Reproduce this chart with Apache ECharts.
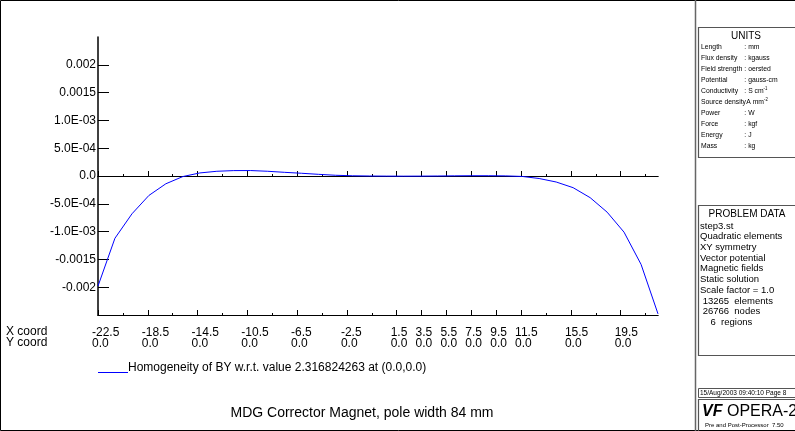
<!DOCTYPE html>
<html>
<head>
<meta charset="utf-8">
<title>MDG Corrector Magnet</title>
<script src="https://cdn.jsdelivr.net/npm/echarts@6/dist/echarts.min.js"></script>
<style>
  html, body { margin: 0; padding: 0; background: #fff; }
  #myChart { width: 795px; height: 431px; }
</style>
</head>
<body>
<div id="myChart"></div>
<script>
  // x coord of each sample (Y coord is 0.0 everywhere)
  var xCoord = [-22.5, -21.14, -19.77, -18.41, -17.05, -15.68, -14.32, -12.95, -11.59, -10.23,
    -8.86, -7.5, -6.14, -4.77, -3.41, -2.05, -0.68, 0.68, 2.05, 3.41,
    4.77, 6.14, 7.5, 8.86, 10.23, 11.59, 12.95, 14.32, 15.68, 17.05,
    18.41, 19.77, 21.14, 22.5]
  // homogeneity of BY
  var homogeneity = [-0.00198, -0.00112, -0.00068, -0.00035, -0.00014, -0.00001, 0.000055, 0.000085, 0.000097, 0.000098,
    0.000085, 0.000066, 0.000049, 0.00003, 0.000013, 0.000004, 0.0, -0.000002, -0.000003, -0.000002,
    0.0, 0.000003, 0.000005, 0.000005, 0.000002, -0.000008, -0.000045, -0.000108, -0.00021, -0.00039,
    -0.00065, -0.00101, -0.00159, -0.00248]

  var xLabelTicks = [-22.5, -18.5, -14.5, -10.5, -6.5, -2.5, 1.5, 3.5, 5.5, 7.5, 9.5, 11.5, 15.5, 19.5]
  var xSmallTicks = [-20.5, -16.5, -12.5, -8.5, -4.5, -0.5, 13.5, 17.5, 21.5]
  var yCoordLabel = '0.0'
  var yTicks = [0.002, 0.0015, 0.001, 0.0005, 0, -0.0005, -0.001, -0.0015, -0.002]
  var yTickLabels = ['0.002', '0.0015', '1.0E-03', '5.0E-04', '0.0', '-5.0E-04', '-1.0E-03', '-0.0015', '-0.002']

  var seriesName = 'Homogeneity of BY w.r.t. value 2.316824263 at (0.0,0.0)'
  var unitRows = [
    ['Length', ': mm'],
    ['Flux density', ': kgauss'],
    ['Field strength', ': oersted'],
    ['Potential', ': gauss-cm'],
    ['Conductivity', '{a|: S cm}{s|-1}'],
    ['Source density', '{a| A mm}{s|-2}'],
    ['Power', ': W'],
    ['Force', ': kgf'],
    ['Energy', ': J'],
    ['Mass', ': kg']
  ]
  var problemRows = ['step3.st', 'Quadratic elements', 'XY symmetry', 'Vector potential', 'Magnetic fields',
    'Static solution', 'Scale factor = 1.0', ' 13265  elements', ' 26766  nodes', '    6  regions']

  var font = '"Liberation Sans", Arial, sans-serif'
  var points = xCoord.map(function (x, i) { return [x, homogeneity[i]] })

  function xAxisBase(extra) {
    var a = {
      type: 'value',
      min: -22.5,
      max: 22.5,
      position: 'bottom',
      splitLine: {show: false},
      axisLine: {onZero: false, lineStyle: {color: '#000', width: 1}},
      axisLabel: {show: false}
    }
    return Object.assign(a, extra)
  }

  var graphics = []
  // frame and right-hand panel
  graphics.push({type: 'rect', shape: {x: 0.5, y: 0.5, width: 800, height: 430}, style: {fill: 'none', stroke: '#000', lineWidth: 1}})
  graphics.push({type: 'line', shape: {x1: 695.5, y1: 0, x2: 695.5, y2: 431}, style: {stroke: '#666', lineWidth: 1.5}})
  graphics.push({type: 'rect', shape: {x: 698.5, y: 27.5, width: 110, height: 130}, style: {fill: 'none', stroke: '#555', lineWidth: 1.2}})
  graphics.push({type: 'rect', shape: {x: 698.5, y: 205.5, width: 110, height: 150}, style: {fill: 'none', stroke: '#555', lineWidth: 1.2}})
  graphics.push({type: 'rect', shape: {x: 698.5, y: 388.5, width: 110, height: 9}, style: {fill: 'none', stroke: '#555', lineWidth: 1}})
  graphics.push({type: 'rect', shape: {x: 698.5, y: 399.5, width: 110, height: 40}, style: {fill: 'none', stroke: '#555', lineWidth: 1.2}})

  graphics.push({type: 'text', style: {text: 'UNITS', x: 746, y: 36, font: '10px ' + font, fill: '#000', align: 'center', verticalAlign: 'middle'}})
  var unitTexts = []
  unitRows.forEach(function (r, i) {
    var y = 47 + i * 11
    unitTexts.push({type: 'text', style: {text: r[0], x: 0, y: y, font: '8px ' + font, fill: '#000', verticalAlign: 'middle'}})
    unitTexts.push({type: 'text', style: {
      text: r[1], x: 51, y: y, font: '8px ' + font, fill: '#000', verticalAlign: 'middle',
      rich: {a: {fontSize: 8, fontFamily: font}, s: {fontSize: 5, fontFamily: font, verticalAlign: 'top', padding: [0, 0, 4, 0]}}
    }})
  })
  graphics.push({type: 'group', x: 701, y: 0, scaleX: 0.85, children: unitTexts})

  graphics.push({type: 'text', style: {text: 'PROBLEM DATA', x: 747, y: 214, font: '10px ' + font, fill: '#000', align: 'center', verticalAlign: 'middle'}})
  problemRows.forEach(function (r, i) {
    graphics.push({type: 'text', style: {text: r, x: 700, y: 226 + i * 10.7, font: '9.5px ' + font, fill: '#000', verticalAlign: 'middle'}})
  })

  graphics.push({type: 'text', style: {text: '15/Aug/2003 09:40:10 Page 8', x: 700, y: 393.5, font: '6.5px ' + font, fill: '#000', verticalAlign: 'middle'}})
  graphics.push({type: 'text', style: {text: 'VF', x: 702, y: 412, font: 'italic bold 16px ' + font, fill: '#000', verticalAlign: 'middle'}})
  graphics.push({type: 'text', style: {text: 'OPERA-2', x: 727, y: 412, font: '16px ' + font, fill: '#000', verticalAlign: 'middle'}})
  graphics.push({type: 'text', style: {text: 'Pre and Post-Processor  7.50', x: 705, y: 425.5, font: '6px ' + font, fill: '#000', verticalAlign: 'middle'}})

  // row headings under the x axis
  graphics.push({type: 'text', style: {text: 'X coord', x: 6, y: 332, font: '12px ' + font, fill: '#000', verticalAlign: 'middle'}})
  graphics.push({type: 'text', style: {text: 'Y coord', x: 6, y: 343, font: '12px ' + font, fill: '#000', verticalAlign: 'middle'}})

  var myCharts = echarts.init(document.getElementById('myChart'))
  myCharts.setOption({
    animation: false,
    backgroundColor: '#fff',
    textStyle: {fontFamily: font},
    title: {
      text: 'MDG Corrector Magnet, pole width 84 mm',
      left: 362,
      top: 406,
      textAlign: 'center',
      padding: 0,
      textStyle: {fontSize: 14, fontWeight: 'normal', color: '#000', fontFamily: font}
    },
    legend: {
      data: [seriesName],
      left: 98,
      top: 362,
      padding: 0,
      itemWidth: 30,
      itemHeight: 10,
      symbolKeepAspect: false,
      // line sits at the bottom of the icon box, like an underline
      icon: 'path://M0,0L30,0L30,0.01L0,0.01Z M0,9L30,9L30,10L0,10Z',
      textStyle: {fontSize: 12, color: '#000', fontFamily: font, padding: [0, 0, 0, -5]}
    },
    grid: {left: 98, top: 37, width: 560, height: 278},
    xAxis: [
      xAxisBase({
        axisTick: {inside: true, length: 5, customValues: xLabelTicks, lineStyle: {color: '#000'}},
        axisLabel: {
          show: true,
          customValues: xLabelTicks,
          formatter: function (v) { return v.toFixed(1) + '\n' + yCoordLabel },
          align: 'left',
          margin: 12,
          lineHeight: 11,
          fontSize: 12,
          color: '#000',
          fontFamily: font,
          padding: [0, 0, 0, -6]
        }
      }),
      xAxisBase({
        axisTick: {inside: true, length: 2, customValues: xSmallTicks, lineStyle: {color: '#000'}}
      }),
      xAxisBase({
        axisLine: {onZero: true, onZeroAxisIndex: 0, lineStyle: {color: '#000', width: 1}},
        axisTick: {inside: true, length: 5, customValues: xLabelTicks, lineStyle: {color: '#000'}}
      }),
      xAxisBase({
        axisLine: {onZero: true, onZeroAxisIndex: 0, lineStyle: {color: '#000', width: 1}},
        axisTick: {inside: true, length: 2, customValues: xSmallTicks, lineStyle: {color: '#000'}}
      })
    ],
    yAxis: {
      type: 'value',
      min: -0.0025,
      max: 0.0025,
      splitLine: {show: false},
      axisLine: {onZero: false, lineStyle: {color: '#000', width: 1.5}},
      axisTick: {inside: true, length: 11, customValues: yTicks, lineStyle: {color: '#000'}},
      axisLabel: {
        customValues: yTicks,
        margin: 2,
        fontSize: 12,
        color: '#000',
        fontFamily: font,
        formatter: function (v) {
          for (var i = 0; i < yTicks.length; i++) {
            if (Math.abs(yTicks[i] - v) < 1e-9) return yTickLabels[i]
          }
          return ''
        }
      }
    },
    series: [{
      name: seriesName,
      type: 'line',
      xAxisIndex: 0,
      data: points,
      symbol: 'none',
      color: '#0000ff',
      lineStyle: {color: '#0000ff', width: 1}
    }],
    graphic: graphics
  })
</script>
</body>
</html>
